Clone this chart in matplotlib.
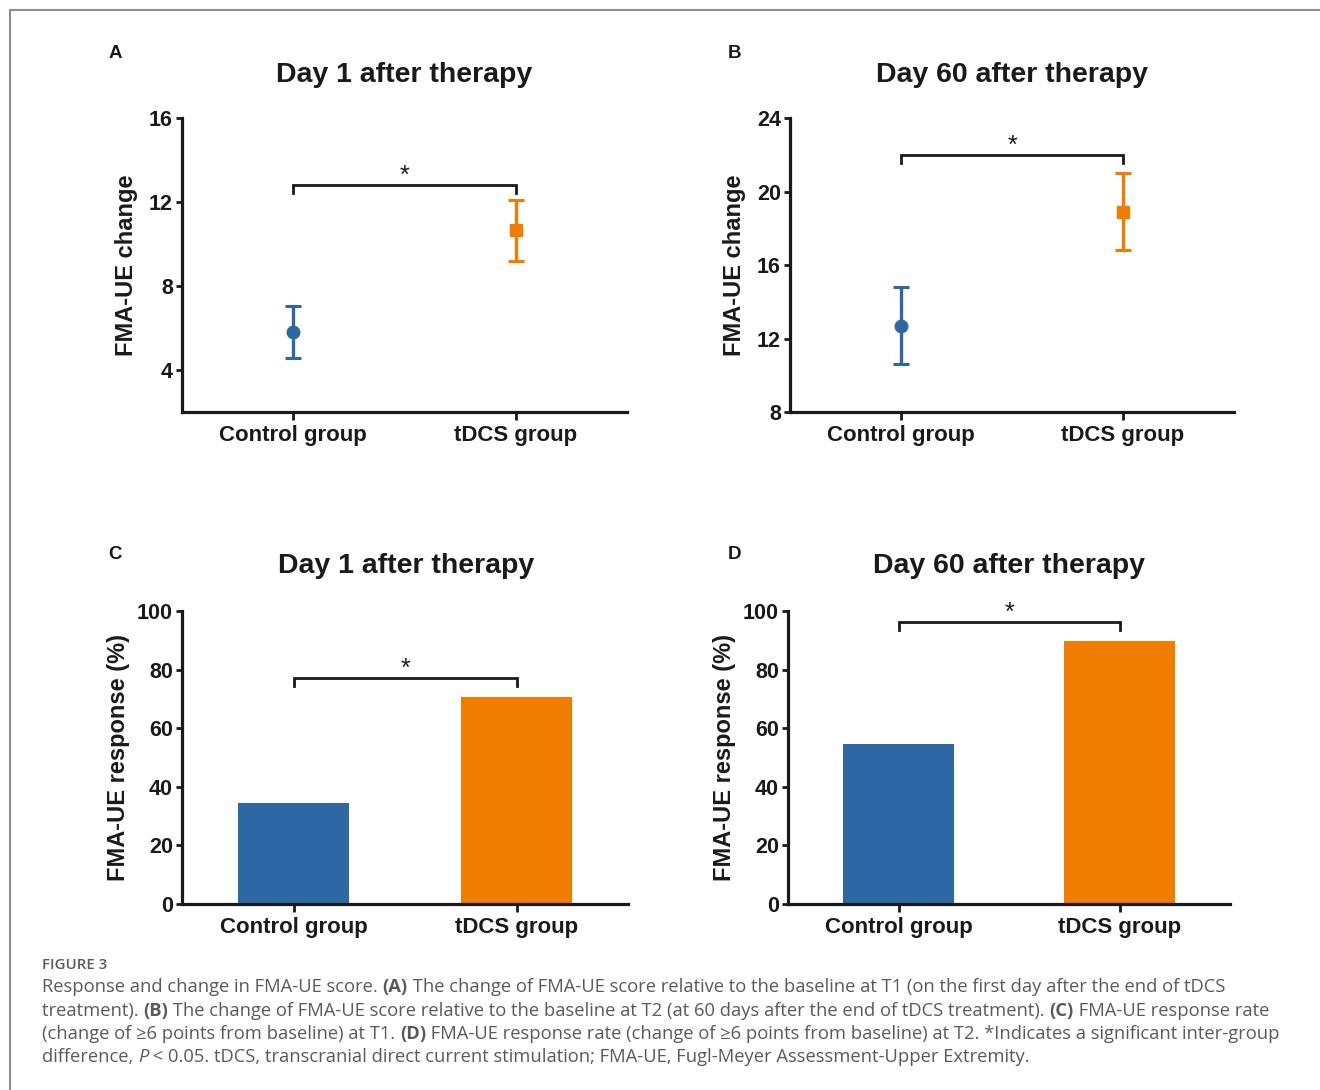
import matplotlib
matplotlib.use("Agg")
import matplotlib.pyplot as plt
from matplotlib.lines import Line2D

# ---------------- data ----------------
groups = ["Control group", "tDCS group"]

# A / B : mean change with error bars
day1_change = [5.8, 10.65]
day1_err_lo = [1.25, 1.45]
day1_err_hi = [1.25, 1.45]
day60_change = [12.7, 18.9]
day60_err_lo = [2.1, 2.1]
day60_err_hi = [2.1, 2.1]

# C / D : response rate (%)
day1_response = [34.5, 70.6]
day60_response = [54.6, 89.8]

# significance brackets (level, drop)
sig_a = (12.8, 0.35)
sig_b = (22.0, 0.45)
sig_c = (77.1, 2.8)
sig_d = (96.3, 2.8)

BLUE = "#2E68A4"
ORANGE = "#F07D00"
INK = "#1a1a1a"
GREY = "#5a5a5a"

plt.rcParams["font.family"] = ["Liberation Sans", "DejaVu Sans"]

fig = plt.figure(figsize=(13.2, 10.9), dpi=100)
W, H = 1320.0, 1090.0


def px_axes(l, t, r, b):
    return fig.add_axes([l / W, 1 - b / H, (r - l) / W, (b - t) / H])


def style(ax, ylim, yticks):
    ax.set_xlim(-0.5, 1.5)
    ax.set_ylim(*ylim)
    ax.set_yticks(yticks)
    ax.set_xticks([0, 1])
    ax.set_xticklabels(groups)
    for s in ["top", "right"]:
        ax.spines[s].set_visible(False)
    for s in ["left", "bottom"]:
        ax.spines[s].set_linewidth(2.3)
        ax.spines[s].set_color(INK)
    ax.tick_params(axis="y", length=4.5, width=2.0, pad=2, labelsize=15.5, colors=INK)
    ax.tick_params(axis="x", length=6, width=2.0, pad=3, labelsize=16, colors=INK)
    for lab in ax.get_xticklabels() + ax.get_yticklabels():
        lab.set_fontweight("bold")


def bracket(ax, level, drop):
    ax.plot([0, 0, 1, 1], [level - drop, level, level, level - drop],
            color=INK, lw=2.0, solid_joinstyle="miter", clip_on=False)
    ax.annotate("*", xy=(0.5, level), xytext=(0, 1.5), textcoords="offset points",
                ha="center", va="baseline", fontsize=18, color=INK, annotation_clip=False)


def points(ax, vals, lo, hi):
    markers = ["o", "s"]
    colors = [BLUE, ORANGE]
    for i in range(2):
        ax.errorbar([i], [vals[i]], yerr=[[lo[i]], [hi[i]]], fmt=markers[i],
                    color=colors[i], ms=9, capsize=6, capthick=2.2, elinewidth=2.4,
                    clip_on=False)


# ---- A ----
axA = px_axes(182, 118, 627, 412)
style(axA, (2, 16), [4, 8, 12, 16])
points(axA, day1_change, day1_err_lo, day1_err_hi)
bracket(axA, *sig_a)
axA.set_ylabel("FMA-UE change", fontsize=17, fontweight="bold", color=INK, labelpad=8)

# ---- B ----
axB = px_axes(790, 118, 1234, 412)
style(axB, (8, 24), [8, 12, 16, 20, 24])
points(axB, day60_change, day60_err_lo, day60_err_hi)
bracket(axB, *sig_b)
axB.set_ylabel("FMA-UE change", fontsize=17, fontweight="bold", color=INK, labelpad=8)

# ---- C ----
axC = px_axes(182, 611, 628, 904)
style(axC, (0, 100), [0, 20, 40, 60, 80, 100])
axC.bar([0, 1], day1_response, width=0.5, color=[BLUE, ORANGE])
bracket(axC, *sig_c)
axC.set_ylabel("FMA-UE response (%)", fontsize=17, fontweight="bold", color=INK, labelpad=5)

# ---- D ----
axD = px_axes(788, 611, 1230, 904)
style(axD, (0, 100), [0, 20, 40, 60, 80, 100])
axD.bar([0, 1], day60_response, width=0.5, color=[BLUE, ORANGE])
bracket(axD, *sig_d)
axD.set_ylabel("FMA-UE response (%)", fontsize=17, fontweight="bold", color=INK, labelpad=5)

# titles and panel letters
titles = [("Day 1 after therapy", 404, 75), ("Day 60 after therapy", 1012, 75),
          ("Day 1 after therapy", 406, 566), ("Day 60 after therapy", 1009, 566)]
for t, x, y in titles:
    fig.text(x / W, 1 - y / H, t, ha="center", va="center", fontsize=20.5,
             fontweight="bold", color=INK)
for letter, x, y in [("A", 115, 54), ("B", 735, 54), ("C", 115, 555), ("D", 735, 555)]:
    fig.text(x / W, 1 - y / H, letter, ha="center", va="center", fontsize=13.5,
             fontweight="bold", color=INK)

# frame (top and left edge only visible)
fig.add_artist(Line2D([10 / W, 1.0], [1 - 10 / H, 1 - 10 / H], color="#8c8c8c", lw=1.5))
fig.add_artist(Line2D([10 / W, 10 / W], [1 - 10 / H, 0.0], color="#8c8c8c", lw=1.5))

# caption
CAP = ["Open Sans", "DejaVu Sans"]
fig.text(42 / W, 1 - 965 / H, "FIGURE 3", fontsize=10.8, fontweight="semibold",
         color=GREY, family=CAP, va="center")

caption_lines = [
    [("Response and change in FMA-UE score. ", "normal", "normal"), ("(A)", "bold", "normal"),
     (" The change of FMA-UE score relative to the baseline at T1 (on the first day after the end of tDCS", "normal", "normal")],
    [("treatment). ", "normal", "normal"), ("(B)", "bold", "normal"),
     (" The change of FMA-UE score relative to the baseline at T2 (at 60 days after the end of tDCS treatment). ", "normal", "normal"),
     ("(C)", "bold", "normal"), (" FMA-UE response rate", "normal", "normal")],
    [("(change of \u22656 points from baseline) at T1. ", "normal", "normal"), ("(D)", "bold", "normal"),
     (" FMA-UE response rate (change of \u22656 points from baseline) at T2. *Indicates a significant inter-group", "normal", "normal")],
    [("difference, ", "normal", "normal"), ("P", "normal", "italic"),
     (" < 0.05. tDCS, transcranial direct current stimulation; FMA-UE, Fugl-Meyer Assessment-Upper Extremity.", "normal", "normal")],
]
line_y = [987, 1011, 1034, 1057]
for pieces, y in zip(caption_lines, line_y):
    prev = None
    for txt, wt, st in pieces:
        kw = dict(fontsize=13.2, fontweight=wt, fontstyle=st, color=GREY, family=CAP, va="center")
        if prev is None:
            prev = fig.text(42 / W, 1 - y / H, txt, **kw)
        else:
            # chain each piece to the right edge of the previous one
            prev = fig.text(0, 0, "")  # dummy so fig owns annotations below
            prev.remove()
            prev = fig.axes[0].annotate(txt, xy=(1, 0.5), xycoords=last, xytext=(0, 0),
                                        textcoords="offset points", ha="left",
                                        annotation_clip=False, **kw)
        last = prev

fig.savefig("out.png", dpi=100)
